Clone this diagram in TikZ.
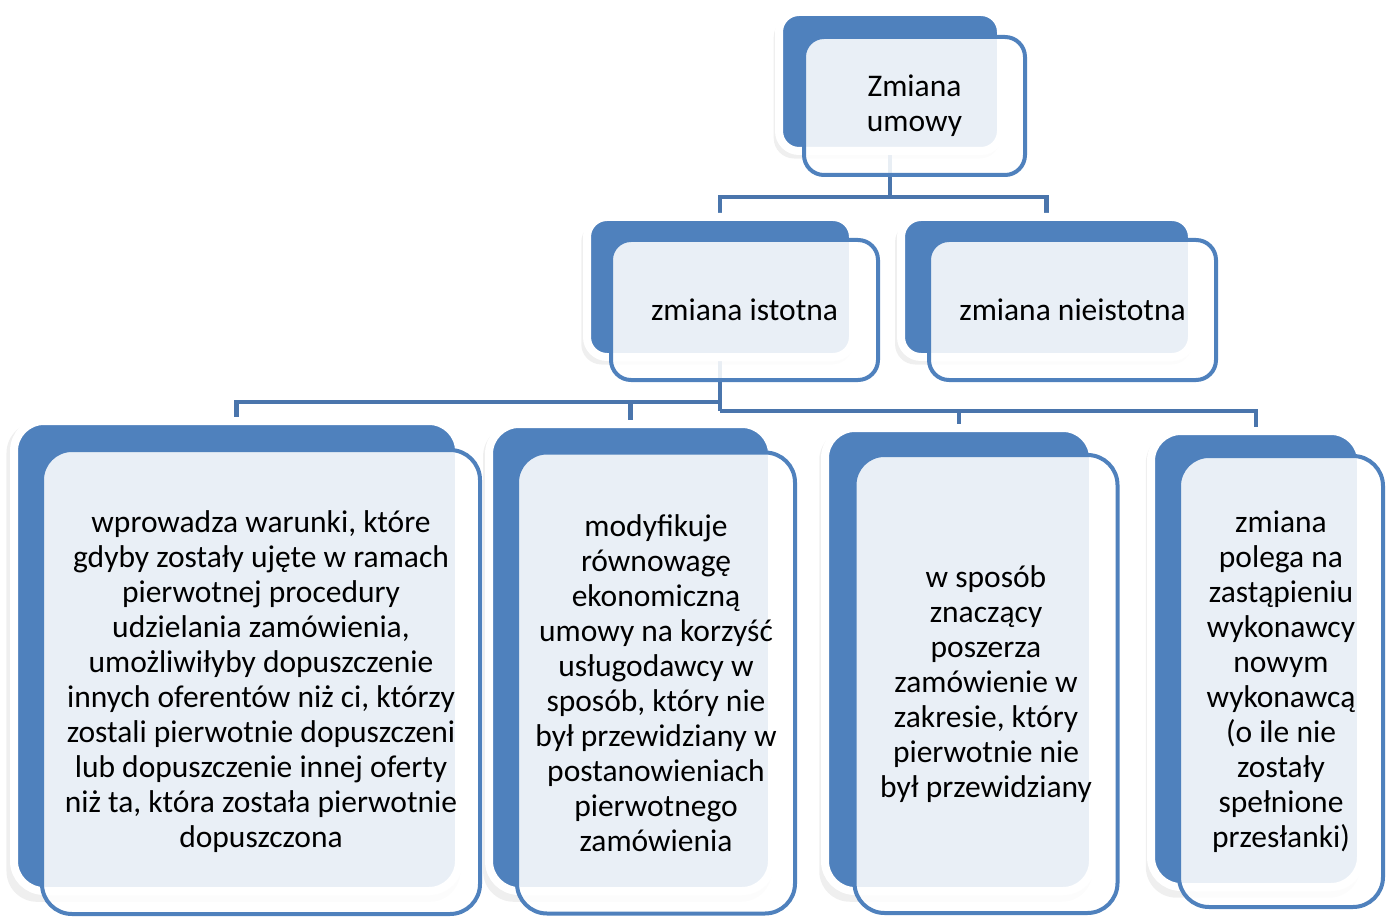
\documentclass[tikz,border=0pt]{standalone}
\usepackage{fontspec}
\setmainfont{Carlito}
\usetikzlibrary{shadows}
\definecolor{cardblue}{HTML}{4F81BD}
\definecolor{connblue}{HTML}{4A75AC}
\pgfdeclarelayer{background}
\pgfsetlayers{background,main}
\tikzset{
  backcard/.style={draw=white, line width=8pt, fill=cardblue, rounded corners=#1,
    inner sep=0pt, outer sep=0pt,
    drop shadow={opacity=0.13, shadow xshift=-3pt, shadow yshift=-6pt, shadow scale=1.02}},
  backcard/.default=20pt,
  frontcard/.style={draw=cardblue, line width=4pt, fill=white, fill opacity=0.88,
    text opacity=1, rounded corners=#1, inner sep=0pt, outer sep=0pt, align=center,
    font=\fontsize{31.5}{35}\selectfont},
  frontcard/.default=20pt,
  conn/.style={draw=connblue, line width=4.5pt}
}
\begin{document}
\begin{tikzpicture}[x=1pt,y=-1pt]
\useasboundingbox (0,0) rectangle (1392,917);
% back cards
\node[backcard, minimum width=222pt, minimum height=139pt] (topB) at (890,81.5) {};
\node[backcard, minimum width=266pt, minimum height=140pt] (istB) at (720,287) {};
\node[backcard, minimum width=291pt, minimum height=140pt] (nieB) at (1046.5,287) {};
\node[backcard=30pt, minimum width=445pt, minimum height=470pt] (c1B) at (236.5,656) {};
\node[backcard=30pt, minimum width=283pt, minimum height=467pt] (c2B) at (630.5,657.5) {};
\node[backcard=30pt, minimum width=268pt, minimum height=463pt] (c3B) at (959,659.5) {};
\node[backcard=30pt, minimum width=210pt, minimum height=456pt] (c4B) at (1256,659) {};
% front cards
\node[frontcard, minimum width=221pt, minimum height=138pt] (topF) at (914.5,106) {Zmiana\\umowy};
\node[frontcard, minimum width=267pt, minimum height=140pt] (istF) at (744.5,310) {zmiana istotna};
\node[frontcard, minimum width=287pt, minimum height=140pt] (nieF) at (1072.5,310) {zmiana nieistotna};
\node[frontcard=30pt, minimum width=438pt, minimum height=464pt] (c1F) at (261,682)
  {wprowadza warunki, które\\gdyby zostały ujęte w ramach\\pierwotnej procedury\\udzielania zamówienia,\\umożliwiłyby dopuszczenie\\innych oferentów niż ci, którzy\\zostali pierwotnie dopuszczeni\\lub dopuszczenie innej oferty\\niż ta, która została pierwotnie\\dopuszczona};
\node[frontcard=30pt, minimum width=278pt, minimum height=461pt] (c2F) at (656,683)
  {modyfikuje\\równowagę\\ekonomiczną\\umowy na korzyść\\usługodawcy w\\sposób, który nie\\był przewidziany w\\postanowieniach\\pierwotnego\\zamówienia};
\node[frontcard=30pt, minimum width=263pt, minimum height=458pt] (c3F) at (986,684)
  {w sposób\\znaczący\\poszerza\\zamówienie w\\zakresie, który\\pierwotnie nie\\był przewidziany};
\node[frontcard=30pt, minimum width=204pt, minimum height=451pt] (c4F) at (1281,681.5)
  {zmiana\\polega na\\zastąpieniu\\wykonawcy\\nowym\\wykonawcą\\(o ile nie\\zostały\\spełnione\\przesłanki)};
% connectors
\coordinate (m1) at (890,197);
\coordinate (m2) at (720,402);
\coordinate (m3) at (720,411);
\begin{pgfonlayer}{background}
\draw[conn] (topB.south) -- (m1) -| (istB.north);
\draw[conn] (m1) -| (nieB.north);
\draw[conn] (istB.south) -- (m3);
\draw[conn] (m2) -| (c1B.north);
\draw[conn] (m2) -| (c2B.north);
\draw[conn] (m3) -| (c3B.north);
\draw[conn] (m3) -| (c4B.north);
\end{pgfonlayer}
\end{tikzpicture}
\end{document}
